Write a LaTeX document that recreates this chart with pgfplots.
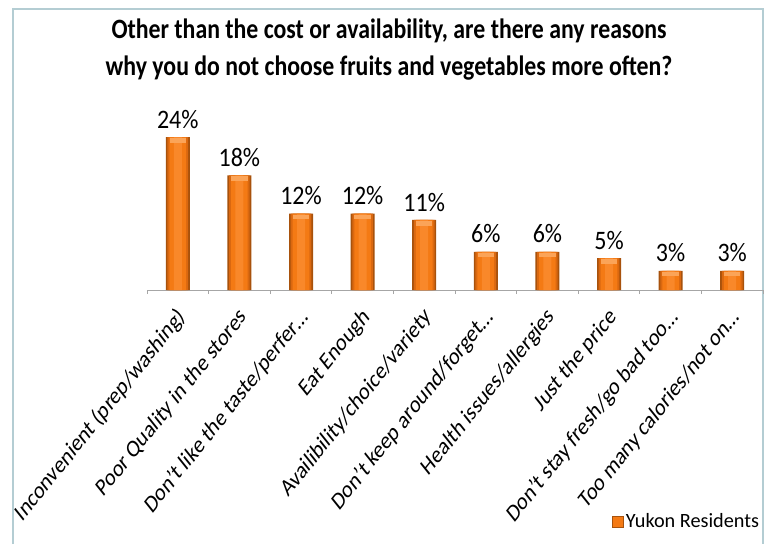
\documentclass[border=0pt]{standalone}
\usepackage{pgfplots}
\pgfplotsset{compat=1.18}
\usepackage{fontspec}
\setmainfont{Carlito}
\newfontfamily\titlefont{Carlito}[FakeStretch=0.85]
\newfontfamily\lblfont{Carlito}[FakeStretch=0.9]
\definecolor{framec}{HTML}{B4CDD3}
\definecolor{barmid}{HTML}{F47A14}
\definecolor{barhalf}{HTML}{DA6810}
\definecolor{barlite}{HTML}{F9882A}
\definecolor{baredge}{HTML}{A8520C}
\definecolor{barcapc}{HTML}{FBA458}
\definecolor{axisgray}{HTML}{A6A6A6}
\pgfdeclareplotmark{barcap}{\pgfpathrectangle{\pgfpoint{-6.2pt}{-4.2pt}}{\pgfpoint{12.4pt}{3.4pt}}\pgfusepathqfill}
\pgfplotstableread{
x y
0 24
1 18
2 12
3 12
4 11
5 6
6 6
7 5
8 3
9 3
}\datatable
\begin{document}
\begin{tikzpicture}[x=0.75pt,y=0.75pt]
\useasboundingbox (0,0) rectangle (771,544);
\draw[framec, line width=1.2pt] (13,0) -- (13,535) -- (763,535) -- (763,0);
\node[font=\titlefont\bfseries\fontsize{21}{28}\selectfont, align=center] at (389,494.5)
  {Other than the cost or availability, are there any reasons\\why you do not choose fruits and vegetables more often?};
\begin{axis}[
  at={(147pt*0.75,254pt*0.75)}, anchor=south west,
  scale only axis, width=616*0.75pt, height=165.6*0.75pt,
  xmin=-0.5, xmax=9.5, ymin=0, ymax=26,
  axis x line*=bottom, axis y line=none,
  axis line style={axisgray, line width=0.6pt},
  xtick={0,...,9},
  xticklabels={Inconvenient (prep/washing),Poor Quality in the stores,Don't like the taste/perfer\ldots,Eat Enough,Availibility/choice/variety,Don't keep around/forget\ldots,Health issues/allergies,Just the price,Don't stay fresh/go bad too\ldots,Too many calories/not on\ldots},
  major tick length=0pt,
  minor xtick={-0.5,0.5,...,9.5},
  minor tick length=3pt,
  tick align=outside,
  minor tick style={axisgray, line width=0.6pt},
  xticklabel style={xshift=5.25pt, yshift=-15pt, xscale=0.8, rotate=45, anchor=east, font=\fontsize{18.5}{20}\selectfont},
  clip=false,
  legend style={at={(1.005,-1.40)}, anchor=east, draw=none, fill=none, font=\fontsize{15.2}{17}\selectfont, legend cell align=left},
  legend image code/.code={\draw[fill=barmid, draw=baredge] (0pt,-4pt) rectangle (8pt,4pt);},
]
\addplot[ybar, bar shift=0pt, draw=none, fill=baredge, bar width=18pt,
  nodes near coords={\pgfmathprintnumber[assume math mode=true,fixed,precision=0]{\pgfplotspointmeta}\%},
  nodes near coords style={font=\lblfont\fontsize{20}{22}\selectfont, black, yshift=3pt}]
  table[x=x,y=y] {\datatable};
\addlegendentry{Yukon Residents}
\addplot[ybar, bar shift=0pt, draw=none, fill=barhalf, bar width=15.5pt, forget plot] table[x=x,y=y] {\datatable};
\addplot[ybar, bar shift=0pt, draw=none, fill=barmid, bar width=12.5pt, forget plot] table[x=x,y=y] {\datatable};
\addplot[ybar, bar shift=0pt, draw=none, fill=barlite, bar width=6pt, forget plot] table[x=x,y=y] {\datatable};
\addplot[only marks, mark=barcap, color=barcapc, forget plot] table[x=x,y=y] {\datatable};
\end{axis}
\end{tikzpicture}
\end{document}
